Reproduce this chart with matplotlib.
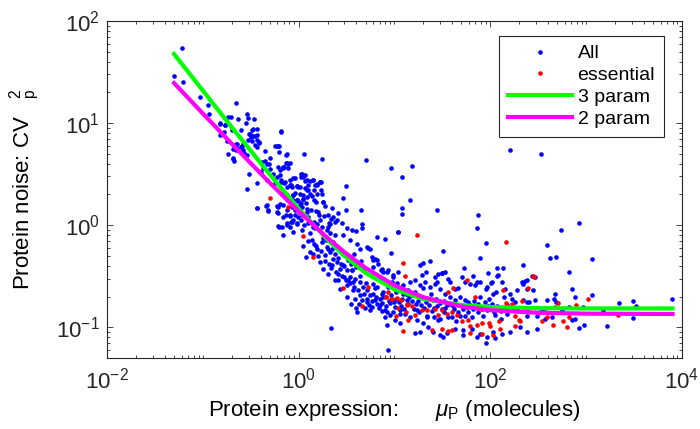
import numpy as np
import matplotlib
matplotlib.use("Agg")
import matplotlib.pyplot as plt
from matplotlib import ticker

plt.rcParams['font.family'] = ['Liberation Sans', 'DejaVu Sans']
plt.rcParams['mathtext.fontset'] = 'custom'
plt.rcParams['mathtext.rm'] = 'Liberation Sans'
plt.rcParams['mathtext.it'] = 'Liberation Sans:italic'
plt.rcParams['mathtext.bf'] = 'Liberation Sans:bold'
plt.rcParams['axes.unicode_minus'] = False

# all proteins: (expression, CV^2)
all_pts = [
    (0.060, 55), (0.050, 29), (0.062, 25), (0.094, 18), (0.113, 15), (0.115, 12.2),
    (0.22, 15.7), (0.183, 11.6), (0.195, 11.5), (0.233, 11.0), (0.152, 9.8), (0.17, 9.5),
    (0.15, 7.6), (0.167, 8.2), (0.20, 8.5), (0.185, 5.0), (0.208, 4.5), (0.212, 4.3),
    (0.222, 6.2), (0.22, 5.4), (0.28, 10), (0.29, 12.4), (0.34, 10.9), (0.296, 11.3),
    (0.25, 8.5), (0.30, 7.9), (0.33, 8.8), (0.37, 8.7), (0.326, 8.55), (0.31, 7.9),
    (0.37, 7.7), (0.33, 7.5), (0.365, 6.9), (0.296, 6.8), (0.324, 6.7), (0.389, 6.4),
    (0.261, 6.3), (0.229, 6.3), (0.255, 5.9), (0.225, 5.65), (0.265, 5.4), (0.292, 4.9),
    (0.32, 7.35), (0.35, 7.5), (0.39, 6.5), (0.35, 6.1), (0.37, 5.8), (0.18, 6.7),
    (0.205, 5.6), (0.205, 4.6), (0.25, 5.8), (0.27, 5.1), (0.45, 5.35), (0.50, 4.6),
    (0.486, 4.0), (0.56, 6.0), (0.61, 6.0), (0.65, 8.4), (0.66, 8.2), (0.59, 5.96),
    (0.624, 5.96), (0.624, 5.2), (0.75, 5.0), (0.47, 4.0), (0.61, 3.7), (0.68, 3.7),
    (0.73, 4.9), (0.76, 4.1), (0.78, 4.0), (0.81, 4.09), (0.738, 4.09), (0.64, 3.47),
    (0.68, 3.6), (0.78, 3.65), (0.60, 2.94), (0.545, 3.14), (0.395, 3.33), (0.411, 4.18),
    (0.463, 2.77), (0.566, 2.57), (0.65, 2.66), (0.70, 2.57), (0.81, 2.77), (0.917, 2.87),
    (0.75, 2.38), (0.845, 2.34), (0.955, 2.41), (1.10, 3.1), (1.21, 2.77), (1.26, 2.21),
    (1.12, 1.97), (0.955, 1.76), (1.04, 1.57), (0.88, 1.97), (0.75, 1.83), (0.614, 1.51),
    (0.69, 1.57), (0.845, 1.51), (0.917, 1.41), (0.99, 1.21), (1.08, 1.25), (1.21, 1.35),
    (0.614, 0.98), (0.665, 0.96), (0.75, 1.04), (0.81, 0.96), (0.88, 1.12), (0.463, 1.57),
    (0.483, 1.41), (0.37, 1.48), (1.13, 5.0), (1.76, 4.45), (0.30, 3.15), (0.40, 3.3),
    (0.42, 3.6), (0.37, 2.6), (0.29, 2.25), (0.46, 1.55), (0.37, 1.46), (0.48, 1.37),
    (0.61, 1.32), (0.59, 1.53), (0.64, 3.1), (0.66, 2.75), (0.70, 3.7), (0.88, 2.9),
    (1.07, 3.2), (1.1, 2.95), (0.84, 2.45), (0.95, 2.4), (1.03, 2.37), (1.16, 2.3),
    (1.26, 2.45), (1.40, 2.76), (1.57, 2.55), (1.71, 2.62), (1.70, 2.2), (1.37, 1.92),
    (0.91, 2.05), (1.03, 2.02), (0.69, 2.07), (0.75, 1.97), (0.88, 1.76), (0.99, 1.73),
    (1.06, 1.66), (1.20, 1.64), (1.52, 1.7), (1.8, 1.67), (1.35, 1.40), (1.52, 1.38),
    (1.65, 1.27), (1.85, 1.22), (2.0, 1.25), (2.2, 1.14), (2.4, 1.07), (0.82, 1.22),
    (0.91, 1.27), (1.01, 1.35), (1.05, 1.12), (0.96, 1.02), (0.84, 1.07), (0.73, 1.25),
    (1.15, 1.0), (1.25, 1.04), (1.40, 0.97), (1.57, 1.02), (2.1, 1.03),
    (5.1, 4.34), (9.2, 3.6), (15.3, 3.8), (11.9, 2.94), (1.09, 3.2), (1.17, 2.72),
    (1.42, 2.76), (1.69, 2.62), (3.1, 2.4), (2.9, 1.85), (3.15, 1.42), (4.5, 1.40),
    (6.6, 0.77), (8.0, 0.73), (4.6, 1.02), (11, 0.86), (14.5, 1.78), (11.9, 1.48),
    (11.9, 1.29), (27.5, 1.40), (75, 1.25), (72, 0.93), (78, 0.48), (117, 0.38),
    (32, 0.56), (23.5, 0.45), (28, 0.28), (31, 0.34), (53, 0.38), (66, 0.32),
    (79, 0.28), (102, 0.27), (119, 0.32), (2.2, 0.0985), (8.6, 0.060), (90, 0.070),
    (4.0, 0.155), (4.1, 0.14), (4.6, 0.184), (5.5, 0.147), (4.0, 0.88), (5.3, 0.6),
    (5.5, 0.59), (6.0, 0.46), (6.6, 0.46), (9.2, 0.54), (10.9, 0.85), (1.2, 0.49),
    (0.62, 0.97), (0.68, 0.80),
    (1.74, 0.686), (1.96, 0.61), (2.13, 0.547), (2.30, 0.471), (2.21, 0.405), (2.50, 0.437),
    (2.70, 0.376), (2.93, 0.405), (3.18, 0.362), (3.58, 0.367), (3.30, 0.289), (3.88, 0.30),
    (4.37, 0.278), (4.74, 0.248), (5.13, 0.23), (5.56, 0.206), (6.27, 0.184), (7.08, 0.164),
    (6.53, 0.248), (6.03, 0.268), (7.66, 0.222), (8.64, 0.248), (9.35, 0.278), (10.6, 0.248),
    (12.4, 0.214), (13.4, 0.184), (11.4, 0.136), (9.75, 0.141), (8.3, 0.141), (7.98, 0.126),
    (7.36, 0.171), (5.79, 0.158), (5.13, 0.177), (4.37, 0.206), (3.73, 0.23), (3.18, 0.258),
    (2.70, 0.239), (2.40, 0.289), (2.04, 0.336), (1.81, 0.376), (1.67, 0.437), (1.89, 0.508),
    (1.54, 0.59), (1.43, 0.66), (2.13, 0.83), (2.40, 0.80), (1.96, 0.89), (1.74, 0.96),
    (1.67, 1.12), (1.43, 1.08), (1.26, 1.21), (1.12, 1.30), (1.03, 1.51), (0.955, 1.76),
    (1.12, 1.82), (1.31, 2.04), (1.43, 2.20), (1.54, 2.47), (1.21, 2.20), (0.99, 2.38),
    (0.81, 2.47), (0.72, 2.66), (0.88, 1.97), (0.85, 1.63), (0.75, 1.40), (0.64, 1.63),
    (0.59, 1.35), (0.69, 1.21), (0.81, 1.25), (0.955, 1.04), (1.08, 0.89), (0.85, 1.08),
    (0.75, 1.0), (0.88, 0.86), (1.31, 0.83), (1.37, 0.71), (1.48, 0.93),
    (7.67, 0.348), (8.65, 0.362), (9.75, 0.324), (11.0, 0.348), (7.36, 0.289), (8.32, 0.268),
    (9.38, 0.248), (10.6, 0.272), (12.4, 0.258), (14.6, 0.278), (16.4, 0.289), (18.5, 0.258),
    (20.9, 0.278), (23.5, 0.248), (26.5, 0.268), (29.9, 0.239), (33.7, 0.214), (38.1, 0.198),
    (43.0, 0.184), (48.4, 0.198), (54.6, 0.184), (7.67, 0.198), (9.0, 0.171), (10.2, 0.158),
    (11.5, 0.147), (12.9, 0.136), (14.6, 0.126), (17.1, 0.117), (20.0, 0.109), (22.6, 0.101),
    (25.5, 0.090), (29.9, 0.0835), (35.2, 0.088), (43.0, 0.097), (52.5, 0.0933), (64.1, 0.097),
    (78.3, 0.0867), (91.9, 0.0804), (108, 0.090), (132, 0.0867), (161, 0.090), (205, 0.101),
    (240, 0.147), (175, 0.147), (149, 0.136), (112, 0.131), (91.9, 0.147), (78.3, 0.158),
    (66.7, 0.152), (56.9, 0.158), (48.4, 0.164), (41.2, 0.161), (35.2, 0.164), (29.9, 0.171),
    (25.5, 0.184), (21.7, 0.191), (18.5, 0.198), (15.8, 0.206), (14.0, 0.231), (19.3, 0.324),
    (28.8, 0.336), (46.6, 0.245), (69.5, 0.258), (90.5, 0.239), (115, 0.222), (143, 0.239),
    (189, 0.231), (222, 0.184), (240, 0.090), (122, 0.152), (78.3, 0.198), (59.1, 0.177),
    (7.98, 0.147), (9.0, 0.131), (10.2, 0.117), (8.32, 0.105), (17.1, 0.147), (11.5, 0.109),
    (18.5, 0.090), (28.8, 0.117), (16.4, 0.088), (52.5, 0.0835), (72.3, 0.080), (32.4, 0.080),
    (112, 0.079), (21.7, 0.126), (89.8, 0.67), (95.7, 0.341), (135, 0.382), (218, 0.405),
    (240, 0.289), (132, 0.278), (104, 0.278), (72, 0.278), (31.2, 0.341), (36.6, 0.30),
    (54.6, 0.278), (43, 0.236), (20, 0.428), (120, 0.328),
    (845, 1.05), (543, 0.89), (388, 0.646), (421, 0.482), (486, 0.489), (1156, 0.464),
    (670, 0.346), (213, 0.278), (222, 0.268), (231, 0.284), (240, 0.239), (277, 0.234),
    (271, 0.318), (294, 0.311), (720, 0.238), (1146, 0.206), (762, 0.198), (474, 0.211),
    (463, 0.191), (388, 0.184), (294, 0.184), (240, 0.177), (256, 0.177), (2190, 0.171),
    (3070, 0.181), (3330, 0.161), (7900, 0.191), (937, 0.158), (670, 0.158), (1520, 0.147),
    (373, 0.156), (486, 0.177), (557, 0.147), (244, 0.128), (305, 0.128), (439, 0.126),
    (373, 0.120), (708, 0.119), (767, 0.121), (946, 0.106), (851, 0.0993), (310, 0.0965),
    (1644, 0.104), (3120, 0.122), (344, 0.149), (159, 5.5), (337, 4.97),
    (1.05, 2.98), (1.17, 3.09), (1.32, 2.72), (1.48, 2.47), (1.67, 2.65), (1.74, 2.04),
    (1.10, 1.82), (1.23, 1.89), (1.55, 2.04), (1.43, 1.76), (1.81, 1.69), (1.08, 1.51),
    (1.21, 1.45), (1.61, 1.35), (1.89, 1.53), (2.21, 1.46), (2.31, 1.19), (2.60, 1.32),
    (2.09, 1.05), (2.50, 1.12), (2.82, 1.04), (3.18, 0.93), (3.58, 0.89), (2.93, 0.80),
    (3.44, 0.71), (4.04, 0.66), (4.55, 0.93), (5.14, 0.61), (5.79, 0.49), (6.28, 0.47),
    (6.80, 0.42), (6.03, 0.39), (7.36, 0.376), (8.3, 0.348), (4.37, 0.59),
    (18.5, 0.405), (21.4, 0.348), (26.5, 0.311), (38, 0.278), (50.4, 0.311), (61.5, 0.268),
    (91.9, 0.248), (108, 0.214), (33.7, 0.348),
    (0.151, 9.93), (0.169, 9.57), (0.44, 4.3), (0.502, 3.52),
    (2.6, 0.33), (3.0, 0.31), (3.4, 0.27), (3.8, 0.25), (4.2, 0.23), (4.8, 0.21),
    (5.2, 0.19), (5.8, 0.18), (6.5, 0.17), (7.0, 0.19), (7.5, 0.21), (6.2, 0.24),
    (5.0, 0.27), (4.4, 0.32), (3.6, 0.36), (2.8, 0.42), (2.4, 0.52), (3.3, 0.46),
    (4.8, 0.37), (6.8, 0.30), (8.8, 0.26), (10.5, 0.22), (12.0, 0.19), (14.0, 0.17),
    (16.0, 0.15), (18.0, 0.14), (22.0, 0.13), (26.0, 0.125), (30.0, 0.12), (34.0, 0.155),
    (38.0, 0.17), (42.0, 0.15), (46.0, 0.14), (55.0, 0.13), (65.0, 0.125), (75.0, 0.14),
    (85.0, 0.13), (95.0, 0.16), (110.0, 0.14), (130.0, 0.12), (150.0, 0.165), (170.0, 0.19),
    (190.0, 0.155), (16.5, 0.22), (20.0, 0.24), (24.0, 0.21), (27.0, 0.19), (33.0, 0.18),
    (9.6, 0.31), (7.2, 0.36), (2.0, 0.58), (1.8, 0.75), (2.3, 0.68), (1.5, 0.62), (1.3, 0.55),
    (3.2, 0.20), (3.5, 0.17), (3.9, 0.19), (4.3, 0.17), (4.9, 0.155), (5.4, 0.165),
    (5.9, 0.21), (6.4, 0.20), (6.9, 0.155), (7.4, 0.145), (8.1, 0.16), (8.7, 0.18),
    (9.2, 0.205), (9.8, 0.175), (10.4, 0.19), (11.1, 0.175), (11.8, 0.16), (12.6, 0.15),
    (13.2, 0.21), (14.3, 0.20), (15.1, 0.18), (16.7, 0.17), (17.7, 0.18), (19.0, 0.165),
    (20.5, 0.155), (21.5, 0.175), (23.0, 0.165), (24.5, 0.145), (26.0, 0.155), (28.0, 0.16),
    (31.0, 0.15), (33.0, 0.14), (36.0, 0.125), (40.0, 0.125), (44.0, 0.115), (48.0, 0.13),
    (52.0, 0.15), (58.0, 0.14), (62.0, 0.165), (68.0, 0.18), (74.0, 0.17), (82.0, 0.15),
    (88.0, 0.175), (97.0, 0.19), (105.0, 0.17), (118.0, 0.16), (128.0, 0.145), (140.0, 0.2),
    (160.0, 0.21), (180.0, 0.175),
    (1.1, 0.62), (1.25, 0.70), (1.4, 0.52), (1.6, 0.5), (1.7, 0.56), (1.9, 0.45),
    (2.05, 0.42), (2.2, 0.38), (2.45, 0.35), (2.6, 0.29), (2.85, 0.32), (3.1, 0.29),
    (3.4, 0.31), (3.7, 0.28), (1.95, 0.72), (2.25, 0.58), (2.55, 0.48), (2.75, 0.55),
    (3.0, 0.40), (3.5, 0.42), (4.0, 0.39), (4.5, 0.45), (3.8, 0.52), (2.0, 0.95),
]

# essential proteins
ess_pts = [
    (0.50, 1.83), (0.77, 1.5), (17.1, 0.80), (57, 0.29), (69, 0.20), (41, 0.24),
    (36, 0.22), (12.3, 0.092), (24.5, 0.094), (82, 0.086), (4.6, 0.16), (2.9, 0.24),
    (1.42, 0.49), (1.1, 0.78), (12.4, 0.43), (12.8, 0.32), (5.3, 0.25), (8.1, 0.20),
    (9.3, 0.19), (10.6, 0.195), (11.7, 0.186), (10.9, 0.155), (10.3, 0.13), (13.6, 0.165),
    (13.3, 0.14), (13.8, 0.117), (8.5, 0.22), (146, 0.69), (137, 0.23), (146, 0.173),
    (167, 0.168), (213, 0.181), (250, 0.245), (8.2, 0.198), (9.4, 0.191), (13.4, 0.168),
    (15.2, 0.161), (16.4, 0.131), (19.3, 0.147), (21.7, 0.149), (26.5, 0.152), (28.8, 0.131),
    (31.2, 0.147), (35.2, 0.136), (39.6, 0.141), (44.7, 0.131), (50.4, 0.115), (59.1, 0.117),
    (61.5, 0.102), (72.3, 0.105), (81.5, 0.109), (98, 0.110), (99.5, 0.102), (122, 0.115),
    (125, 0.097), (181, 0.128), (201, 0.117), (181, 0.102), (31.2, 0.097), (39.6, 0.093),
    (277, 0.318), (287, 0.311), (514, 0.171), (787, 0.167), (1050, 0.188), (474, 0.158),
    (670, 0.126), (344, 0.115), (394, 0.126), (456, 0.105), (570, 0.115), (638, 0.10),
    (2140, 0.131), (205, 0.115), (318, 0.139), (36.5, 0.091), (61.5, 0.088), (107, 0.084),
]

# fitted curves, read at these expression levels
fit_mu = [0.05, 0.1, 0.2, 0.5, 1, 2, 3, 5, 10, 20, 50, 100, 300, 1000, 8000]
fit3_cv2 = [47.5, 20.8, 9.12, 3.14, 1.45, 0.719, 0.501, 0.341, 0.235, 0.189, 0.165,
            0.158, 0.154, 0.153, 0.153]
fit2_cv2 = [24.7, 12.4, 6.29, 2.60, 1.365, 0.75, 0.545, 0.381, 0.258, 0.197, 0.160,
            0.147, 0.139, 0.136, 0.135]

all_x = [p[0] for p in all_pts]
all_y = [p[1] for p in all_pts]
ess_x = [p[0] for p in ess_pts]
ess_y = [p[1] for p in ess_pts]

fig = plt.figure(figsize=(7, 4.29), dpi=100, facecolor="w")
ax = fig.add_axes([0.153, 0.1655, 0.821, 0.7855])

ax.plot(all_x, all_y, 'o', color='#0000ff', ms=3.3, mew=0, label='All')
ax.plot(ess_x, ess_y, 'o', color='#ff0000', ms=3.3, mew=0, label='essential')
ax.plot(fit_mu, fit3_cv2, '-', color='#00ff00', lw=3, label='3 param')
ax.plot(fit_mu, fit2_cv2, '-', color='#ff00ff', lw=3, label='2 param')

ax.set_xscale('log')
ax.set_yscale('log')
ax.set_xlim(1e-2, 1e4)
ax.set_ylim(0.05, 100)

ax.xaxis.set_major_locator(ticker.FixedLocator([1e-2, 1, 1e2, 1e4]))
ax.xaxis.set_minor_locator(ticker.LogLocator(base=10, subs=np.arange(1, 10), numticks=30))
ax.xaxis.set_major_formatter(ticker.LogFormatterSciNotation())
ax.xaxis.set_minor_formatter(ticker.NullFormatter())
ax.yaxis.set_major_locator(ticker.LogLocator(base=10, numticks=10))
ax.yaxis.set_minor_locator(ticker.LogLocator(base=10, subs=np.arange(2, 10), numticks=30))
ax.yaxis.set_minor_formatter(ticker.NullFormatter())

ax.tick_params(which='both', direction='in', top=True, right=True, colors='0.15',
               width=0.6, labelsize=16)
ax.tick_params(which='major', length=4.5)
ax.tick_params(which='minor', length=2.4)
ax.tick_params(axis='x', pad=7)
ax.tick_params(axis='y', pad=5)
for s in ax.spines.values():
    s.set_linewidth(0.8)
    s.set_color('0.15')

ax.set_xlabel(r'Protein expression:      $\mu_{\mathrm{P}}$ (molecules)', fontsize=16,
              labelpad=3)
ax.set_ylabel(r'Protein noise: CV   ${}^{2}_{\mathrm{p}}$', fontsize=16, labelpad=10)

leg = ax.legend(loc='upper right', bbox_to_anchor=(0.9687, 0.9555), borderaxespad=0,
                fontsize=14, handlelength=3.3, handletextpad=0.3, borderpad=0.45,
                labelspacing=0.22, fancybox=False, framealpha=1, numpoints=1)
leg.get_frame().set_edgecolor('0.15')
leg.get_frame().set_linewidth(0.8)

plt.savefig('out.png', dpi=100)
